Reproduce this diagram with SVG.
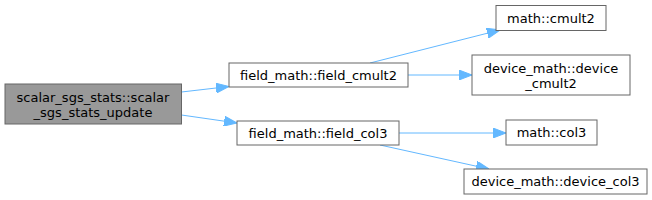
<svg xmlns="http://www.w3.org/2000/svg" width="652" height="200" viewBox="0 0 652 200">
<style>
.n rect{fill:#fff;stroke:#666;stroke-width:1}
.n.cur rect{fill:#999}
.n text{font-family:"DejaVu Sans",sans-serif;font-size:13px;fill:#000;text-anchor:middle}
.e path{fill:none;stroke:#63b8ff;stroke-width:1;marker-end:url(#ah)}
</style>
<defs>
<marker id="ah" markerUnits="userSpaceOnUse" markerWidth="13" markerHeight="10" refX="13" refY="5" orient="auto">
<path d="M0,0 L13,5 L0,10 z" fill="#63b8ff" stroke="#63b8ff"/>
</marker>
</defs>
<rect width="652" height="200" fill="#fff"/>
<g id="edges" class="e">
<path d="M181.5,92 L229,86.5"/>
<path d="M181.5,115 L237,123"/>
<path d="M370,63 L500,30"/>
<path d="M408,75 L472,75"/>
<path d="M399,133 L506,133"/>
<path d="M380,145 L489,169"/>
</g>
<g id="scalar_sgs_stats_update" class="n cur">
<rect x="5" y="84" width="176.5" height="40"/>
<text x="93" y="102">scalar_sgs_stats::scalar</text>
<text x="93" y="117">_sgs_stats_update</text>
</g>
<g id="field_cmult2" class="n">
<rect x="229" y="63" width="179" height="24"/>
<text x="318.5" y="79.5">field_math::field_cmult2</text>
</g>
<g id="field_col3" class="n">
<rect x="237" y="121" width="162" height="24"/>
<text x="318" y="137.5">field_math::field_col3</text>
</g>
<g id="math_cmult2" class="n">
<rect x="496" y="5.5" width="110" height="25"/>
<text x="551" y="22.5">math::cmult2</text>
</g>
<g id="device_cmult2" class="n">
<rect x="472" y="55" width="158" height="40"/>
<text x="551" y="72.5">device_math::device</text>
<text x="551" y="88">_cmult2</text>
</g>
<g id="math_col3" class="n">
<rect x="506" y="120" width="91" height="25"/>
<text x="551.5" y="137">math::col3</text>
</g>
<g id="device_col3" class="n">
<rect x="464" y="169" width="183" height="25"/>
<text x="555.5" y="186">device_math::device_col3</text>
</g>
</svg>
